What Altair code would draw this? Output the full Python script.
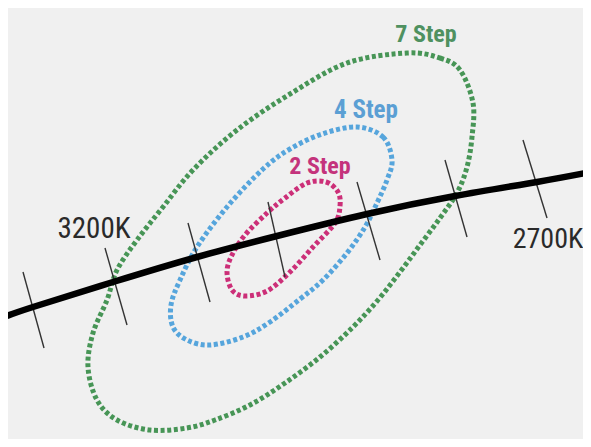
import altair as alt
import pandas as pd

# Planckian locus (black curve), image pixel coordinates
curve_x = [7, 33, 113, 197, 277, 367, 455, 537, 591]
curve_y = [316, 307, 282, 257, 236, 214, 196, 182, 172]

# isotherm tick marks crossing the curve
tick_x1 = [23, 105, 188, 268, 357, 445, 523]
tick_y1 = [272, 248, 223, 202, 182, 160, 140]
tick_x2 = [44, 127, 210, 285, 380, 467, 547]
tick_y2 = [348, 325, 302, 277, 260, 237, 218]

# MacAdam ellipse outlines (points read around each ellipse)
green_x = [407, 440, 460, 473, 472, 467, 457, 440, 420, 400, 378, 352, 320, 285, 250, 215, 187, 150, 117, 97, 88, 93, 107, 117, 137, 163, 193, 237, 290, 347]
green_y = [53, 58, 70, 103, 137, 167, 193, 218, 245, 272, 300, 328, 357, 383, 405, 420, 428, 430, 420, 400, 367, 333, 300, 270, 240, 207, 170, 130, 94, 63]

blue_x = [357, 383, 392, 387, 377, 365, 347, 323, 300, 270, 243, 210, 187, 173, 171, 180, 197, 227, 263, 290, 322]
blue_y = [127, 137, 160, 180, 203, 227, 253, 280, 299, 322, 337, 345, 340, 327, 305, 280, 247, 207, 169, 149, 134]

pink_x = [307, 326, 338, 340, 335, 313, 290, 267, 245, 232, 227, 232, 245, 267, 285]
pink_y = [183, 182, 192, 206, 223, 247, 272, 291, 296, 290, 272, 255, 235, 213, 198]

# text labels
label_text = ["7 Step", "4 Step", "2 Step", "3200K", "2700K"]
label_x = [426, 366, 320, 94, 548]
label_y = [42, 118, 174, 238, 248]
label_color = ["#4f9160", "#5b9fd4", "#c4337c", "#2a2a2a", "#2a2a2a"]
label_size = [24, 25, 24, 29, 28]
label_weight = ["bold", "bold", "bold", "normal", "normal"]

W, H = 575, 431
xs = alt.Scale(domain=[8, 8 + W], nice=False, zero=False)
ys = alt.Scale(domain=[8, 8 + H], reverse=True, nice=False, zero=False)

X = lambda f: alt.X(f, type="quantitative", scale=xs, axis=None)
Y = lambda f: alt.Y(f, type="quantitative", scale=ys, axis=None)

curve_df = pd.DataFrame({"x": curve_x, "y": curve_y, "i": range(len(curve_x))})
tick_df = pd.DataFrame({"x": tick_x1, "y": tick_y1, "x2": tick_x2, "y2": tick_y2})


def ell(xv, yv):
    return pd.DataFrame({"x": xv, "y": yv, "i": range(len(xv))})


def ellipse_layer(df, color):
    return alt.Chart(df).mark_line(
        interpolate="cardinal-closed", stroke=color, strokeWidth=5,
        strokeDash=[4, 2.6], strokeCap="butt"
    ).encode(x=X("x"), y=Y("y"), order=alt.Order("i:Q"))


green = ellipse_layer(ell(green_x, green_y), "#479556")
blue = ellipse_layer(ell(blue_x, blue_y), "#56a5dc")
pink = ellipse_layer(ell(pink_x, pink_y), "#cc2f78")

ticks = alt.Chart(tick_df).mark_rule(color="#333333", strokeWidth=1.4).encode(
    x=X("x"), y=Y("y"), x2="x2", y2="y2"
)

curve = alt.Chart(curve_df).mark_line(
    interpolate="natural", color="#000000", strokeWidth=6.5, strokeCap="butt"
).encode(x=X("x"), y=Y("y"), order=alt.Order("i:Q"))

FONT = "Liberation Sans Narrow, Roboto Condensed, DejaVu Sans Condensed, Arial Narrow, sans-serif"


def text_layer(idx):
    df = pd.DataFrame({"t": [label_text[i] for i in idx],
                       "x": [label_x[i] for i in idx],
                       "y": [label_y[i] for i in idx],
                       "c": [label_color[i] for i in idx],
                       "s": [label_size[i] for i in idx]})
    return alt.Chart(df).mark_text(
        font=FONT, align="center", baseline="alphabetic",
        fontWeight=label_weight[idx[0]]
    ).encode(
        x=X("x"), y=Y("y"), text="t:N",
        color=alt.Color("c:N", scale=None),
        size=alt.Size("s:Q", scale=None),
    )


step_labels = text_layer([0, 1, 2])
k_labels = text_layer([3, 4])

chart = alt.layer(green, blue, pink, ticks, curve, step_labels, k_labels).properties(
    width=W, height=H, padding=0, background="#f0f0f0",
    autosize=alt.AutoSizeParams(type="none")
).configure_view(stroke=None)

chart.save("out.html", embed_options={"renderer": "svg", "actions": False})
